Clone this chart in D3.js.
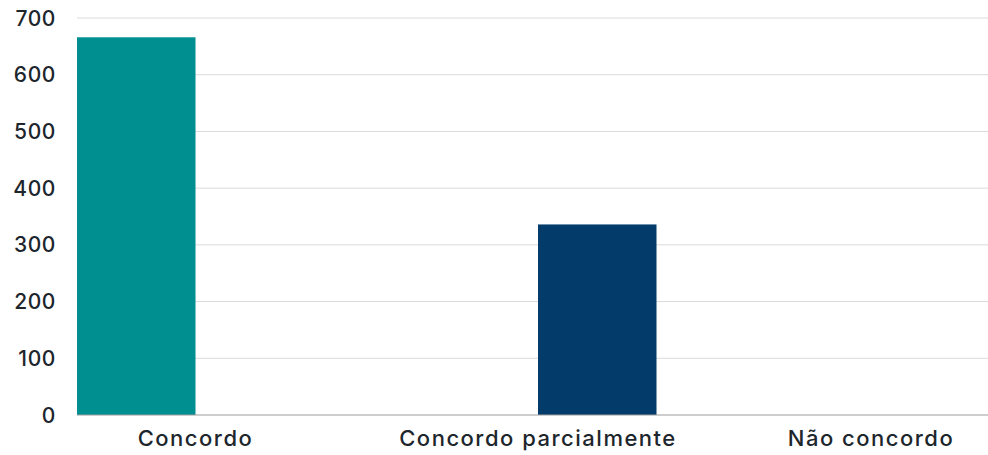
<!DOCTYPE html>
<html>
<head>
<meta charset="utf-8">
<script src="https://cdn.jsdelivr.net/npm/d3@7"></script>
<style>
  body { margin: 0; background: #fff; }
  svg text { font-family: Inter, "Noto Sans", sans-serif; fill: #1d262c; }
</style>
</head>
<body>
<svg id="chart"></svg>
<script>
var categories = ["Concordo", "Concordo parcialmente", "Não concordo"];
var seriesKeys = ["a", "b"];
var seriesColors = ["#008f90", "#033c6b"];
// one value per series for each category
var seriesA = [666, 0, 0];
var seriesB = [0, 336, 0];
var yTicks = [0, 100, 200, 300, 400, 500, 600, 700];

var width = 988, height = 455;
var plotLeft = 77, plotRight = 999, plotTop = 18, plotBottom = 415;

var svg = d3.select("#chart")
    .attr("width", width)
    .attr("height", height);

var x0 = d3.scaleBand()
    .domain(categories)
    .range([plotLeft, plotRight])
    .paddingInner(0.308)
    .paddingOuter(0);

var x1 = d3.scaleBand()
    .domain(seriesKeys)
    .range([0, x0.bandwidth()]);

var y = d3.scaleLinear()
    .domain([0, 700])
    .range([plotBottom, plotTop]);

var color = d3.scaleOrdinal().domain(seriesKeys).range(seriesColors);

// gridlines
svg.append("g")
    .selectAll("line")
    .data(yTicks.filter(d => d > 0))
    .join("line")
    .attr("x1", plotLeft)
    .attr("x2", width)
    .attr("y1", d => y(d))
    .attr("y2", d => y(d))
    .attr("stroke", "#dadada")
    .attr("stroke-width", 1);

// y tick labels
svg.append("g")
    .selectAll("text")
    .data(yTicks)
    .join("text")
    .attr("x", 56)
    .attr("y", d => y(d))
    .attr("dy", "0.36em")
    .attr("text-anchor", "end")
    .style("font-size", "21px")
    .style("font-weight", 500)
    .style("letter-spacing", "0.6px")
    .text(d => d);

var rows = categories.map((c, i) => ({ cat: c, values: [seriesA[i], seriesB[i]] }));

svg.append("g")
    .selectAll("g")
    .data(rows)
    .join("g")
    .attr("transform", d => `translate(${x0(d.cat)},0)`)
    .selectAll("rect")
    .data(d => seriesKeys.map((k, j) => ({ key: k, value: d.values[j] })))
    .join("rect")
    .attr("x", d => x1(d.key))
    .attr("width", x1.bandwidth())
    .attr("y", d => y(d.value))
    .attr("height", d => y(0) - y(d.value))
    .attr("fill", d => color(d.key));

// zero line
svg.append("line")
    .attr("x1", plotLeft)
    .attr("x2", width)
    .attr("y1", y(0))
    .attr("y2", y(0))
    .attr("stroke", "#9c9c9c")
    .attr("stroke-width", 1.2);

// category labels
svg.append("g")
    .selectAll("text")
    .data(categories)
    .join("text")
    .attr("x", d => Math.min(x0(d) + x0.bandwidth() / 2, 871))
    .attr("y", 446)
    .attr("text-anchor", "middle")
    .style("font-size", "22px")
    .style("font-weight", 500)
    .style("letter-spacing", "1.5px")
    .text(d => d);
</script>
</body>
</html>
